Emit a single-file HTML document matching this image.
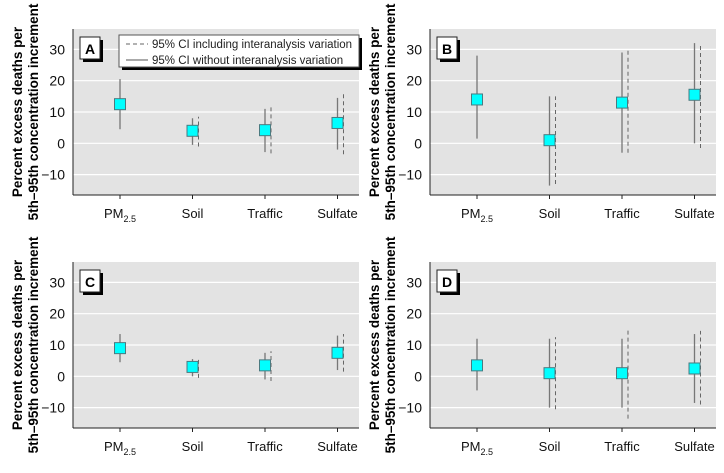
<!DOCTYPE html>
<html><head><meta charset="utf-8"><style>
body{margin:0;background:#fff;font-family:"Liberation Sans",sans-serif}
svg text{font-family:"Liberation Sans",sans-serif}
</style></head><body>
<svg id="c" width="724" height="468" xmlns="http://www.w3.org/2000/svg"></svg>
<script>
const categories=["PM2.5","Soil","Traffic","Sulfate"];
const yTicks=[30,20,10,0,-10];
const panelLabels=["A","B","C","D"];
const estA=[12.5,4,4.2,6.5], loA=[4.5,-0.5,-2.8,-2], hiA=[20.5,8,11,14.5], dloA=[null,-1,-3.2,-3.5], dhiA=[null,8.5,11.5,16.5];
const estB=[14,1,13,15.5], loB=[1.5,-13.5,-3,0], hiB=[28,15,29,32], dloB=[null,-13,-3,-1.5], dhiB=[null,15,30,32];
const estC=[9,3,3.5,7.5], loC=[4.5,0,-1,2], hiC=[13.5,5.5,7.5,13], dloC=[null,-0.5,-1.5,1.5], dhiC=[null,6,8,13.5];
const estD=[3.5,1,1,2.5], loD=[-4.5,-10,-10,-8.5], hiD=[12,12,12,13.5], dloD=[null,-10.5,-13.5,-9], dhiD=[null,12.5,15.5,14.5];
const panels=[[estA,loA,hiA,dloA,dhiA],[estB,loB,hiB,dloB,dhiB],[estC,loC,hiC,dloC,dhiC],[estD,loD,hiD,dloD,dhiD]];
const NS="http://www.w3.org/2000/svg", svg=document.getElementById('c');
function mk(t,a,p,txt){const e=document.createElementNS(NS,t);for(const k in a)e.setAttribute(k,a[k]);if(txt!==undefined)e.textContent=txt;(p||svg).appendChild(e);return e;}
const origins=[[73,29],[430,29],[73,262],[430,262]];
const W=286,H=166,YMAX=36.5,YMIN=-16.5;
panels.forEach((d,pi)=>{
  const [ox,oy]=origins[pi];
  const g=mk('g',{});
  
  
  const y=v=>oy+(YMAX-v)/(YMAX-YMIN)*H;
  const x=i=>ox+47+i*72.5;
  const bg=mk('rect',{x:ox,y:oy,width:W,height:H,fill:'#e3e3e3'},g);
  
  yTicks.forEach(t=>{
    const l=mk('line',{x1:ox,x2:ox+W,y1:y(t),y2:y(t),stroke:'#fff','stroke-width':1.2},g);
    
    const tl=mk('text',{x:ox-8,y:y(t)+5,'text-anchor':'end','font-size':14,fill:'#111'},g,t<0?'\u2212'+(-t):String(t));
    
  });
  mk('line',{x1:ox,x2:ox,y1:oy,y2:oy+H,stroke:'#222','stroke-width':1},g);
  mk('line',{x1:ox,x2:ox+W,y1:oy+H,y2:oy+H,stroke:'#222','stroke-width':1},g);
  categories.forEach((c,i)=>{
    mk('line',{x1:x(i),x2:x(i),y1:oy+H,y2:oy+H+4,stroke:'#222'},g);
    const t=mk('text',{x:x(i),y:oy+H+23,'text-anchor':'middle','font-size':13,fill:'#111'},g);
    
    if(c==="PM2.5"){t.textContent='PM';mk('tspan',{'font-size':9,dy:4},t,'2.5');}else t.textContent=c;
    const [est,lo,hi,dlo,dhi]=d;
    if(dlo[i]!==null){const dl=mk('line',{x1:x(i)+6,x2:x(i)+6,y1:y(dlo[i]),y2:y(dhi[i]),stroke:'#666','stroke-width':1,'stroke-dasharray':'4,3'},g);
      }
    const sl=mk('line',{x1:x(i),x2:x(i),y1:y(lo[i]),y2:y(hi[i]),stroke:'#777','stroke-width':1.3},g);
    
    const p=mk('rect',{x:x(i)-5.5,y:y(est[i])-5.5,width:11,height:11,fill:'#00ffff',stroke:'#4a7a80','stroke-width':1},g);
    
  });
  mk('rect',{x:ox+10,y:oy+11,width:20,height:22,fill:'#000'},g);
  mk('rect',{x:ox+7,y:oy+8,width:20,height:22,fill:'#fff',stroke:'#222'},g);
  const pl=mk('text',{x:ox+17,y:oy+25,'text-anchor':'middle','font-size':14,'font-weight':'bold'},g,panelLabels[pi]);
  
  const cx=ox-48,cy=oy+H/2;
  const at=mk('text',{transform:`translate(${cx},${cy}) rotate(-90)`,'text-anchor':'middle','font-size':13.5,'font-weight':'bold'},g);
  
  mk('tspan',{x:0,dy:-3},at,'Percent excess deaths per');
  mk('tspan',{x:0,dy:16},at,'5th\u201395th concentration increment');
});
const lg=mk('g',{});

mk('rect',{x:122,y:38,width:240,height:32,fill:'#000'},lg);
mk('rect',{x:119,y:35,width:240,height:32,fill:'#fff',stroke:'#555'},lg);
mk('line',{x1:126,x2:148,y1:44,y2:44,stroke:'#666','stroke-dasharray':'4,3'},lg);
mk('line',{x1:126,x2:148,y1:60,y2:60,stroke:'#555'},lg);
const l1=mk('text',{x:152,y:48,'font-size':11.5,fill:'#222'},lg,'95% CI including interanalysis variation');

const l2=mk('text',{x:152,y:64,'font-size':11.5,fill:'#222'},lg,'95% CI without interanalysis variation');

</script>
</body></html>
